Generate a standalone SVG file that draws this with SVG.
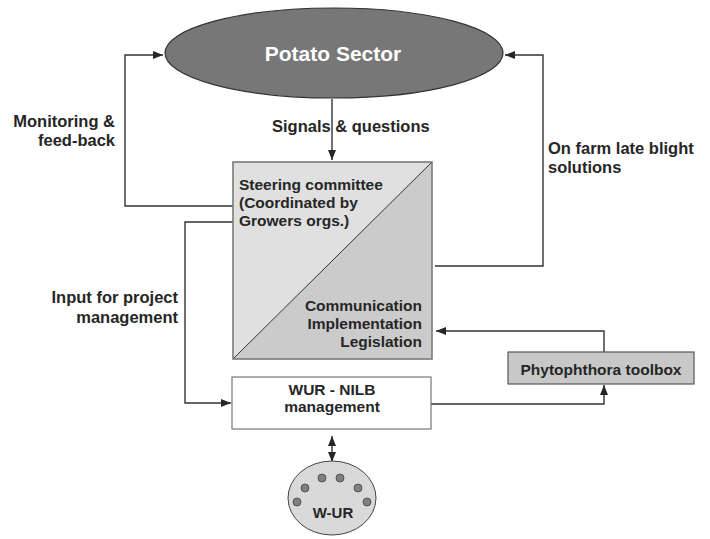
<svg xmlns="http://www.w3.org/2000/svg" width="710" height="539" viewBox="0 0 710 539">
<defs>
<style>
text{font-family:"Liberation Sans",Arial,sans-serif;font-weight:bold;fill:#262626}
.lbl{font-size:16.5px}
.nd{font-size:15.5px}
.con{fill:none;stroke:#333;stroke-width:1.4}
</style>
<marker id="ah" viewBox="0 0 10 8" refX="10" refY="4" markerWidth="10" markerHeight="8" markerUnits="userSpaceOnUse" orient="auto-start-reverse">
<path d="M0,0 L10,4 L0,8 z" fill="#262626"/>
</marker>
</defs>
<rect width="710" height="539" fill="#fff"/>
<g id="connectors">
<path class="con" d="M233,206 H125 V55 H163" marker-end="url(#ah)"/>
<path class="con" d="M332,99 V160" marker-end="url(#ah)"/>
<path class="con" d="M435,266 H543 V55 H505" marker-end="url(#ah)"/>
<path class="con" d="M233,222 H185 V403 H231" marker-end="url(#ah)"/>
<path class="con" d="M604,352 V331 H436" marker-end="url(#ah)"/>
<path class="con" d="M431,404 H604 V385" marker-end="url(#ah)"/>
<path class="con" d="M332,436 V462" marker-start="url(#ah)" marker-end="url(#ah)"/>
</g>
<g id="potato-sector">
<ellipse cx="334" cy="53" rx="169" ry="45" fill="#777" stroke="#333" stroke-width="1.2"/>
<text x="333" y="61" text-anchor="middle" style="font-size:21px;fill:#fff">Potato Sector</text>
</g>
<g id="steering-committee">
<polygon points="233,162 432,162 233,359" fill="#e0e0e0"/>
<polygon points="432,162 432,359 233,359" fill="#cbcbcb"/>
<line x1="233" y1="359" x2="432" y2="162" stroke="#333" stroke-width="1"/>
<rect x="233" y="162" width="199" height="197" fill="none" stroke="#7a7a7a" stroke-width="1.6"/>
<text class="nd" x="239" y="190">Steering committee</text>
<text class="nd" x="239" y="208">(Coordinated by</text>
<text class="nd" x="239" y="226">Growers orgs.)</text>
<text class="nd" x="422" y="311" text-anchor="end">Communication</text>
<text class="nd" x="422" y="329" text-anchor="end">Implementation</text>
<text class="nd" x="422" y="347" text-anchor="end">Legislation</text>
</g>
<g id="wur-nilb">
<rect x="232" y="377" width="199" height="52" fill="#fff" stroke="#777" stroke-width="1.2"/>
<text class="nd" x="332" y="395" text-anchor="middle">WUR - NILB</text>
<text class="nd" x="332" y="412" text-anchor="middle">management</text>
</g>
<g id="phytophthora-toolbox">
<rect x="508" y="352" width="186" height="32" fill="#c8c8c8" stroke="#555" stroke-width="1.2"/>
<text class="nd" x="601" y="375" text-anchor="middle">Phytophthora toolbox</text>
</g>
<g id="w-ur">
<ellipse cx="332" cy="498" rx="44" ry="37" fill="#d9d9d9" stroke="#444" stroke-width="1"/>
<g fill="#808080" stroke="#444" stroke-width="0.8">
<circle cx="297" cy="502" r="4"/>
<circle cx="305" cy="488" r="4"/>
<circle cx="322" cy="478" r="4"/>
<circle cx="340" cy="478" r="4"/>
<circle cx="358" cy="488" r="4"/>
<circle cx="367" cy="502" r="4"/>
</g>
<text x="333" y="518" text-anchor="middle" style="font-size:15px">W-UR</text>
</g>
<g id="labels">
<text class="lbl" x="115" y="127" text-anchor="end">Monitoring &amp;</text>
<text class="lbl" x="115" y="146" text-anchor="end">feed-back</text>
<text class="lbl" x="272" y="132">Signals &amp; questions</text>
<text class="lbl" x="548" y="154">On farm late blight</text>
<text class="lbl" x="548" y="173">solutions</text>
<text class="lbl" x="178" y="303" text-anchor="end">Input for project</text>
<text class="lbl" x="178" y="323" text-anchor="end">management</text>
</g>
</svg>
